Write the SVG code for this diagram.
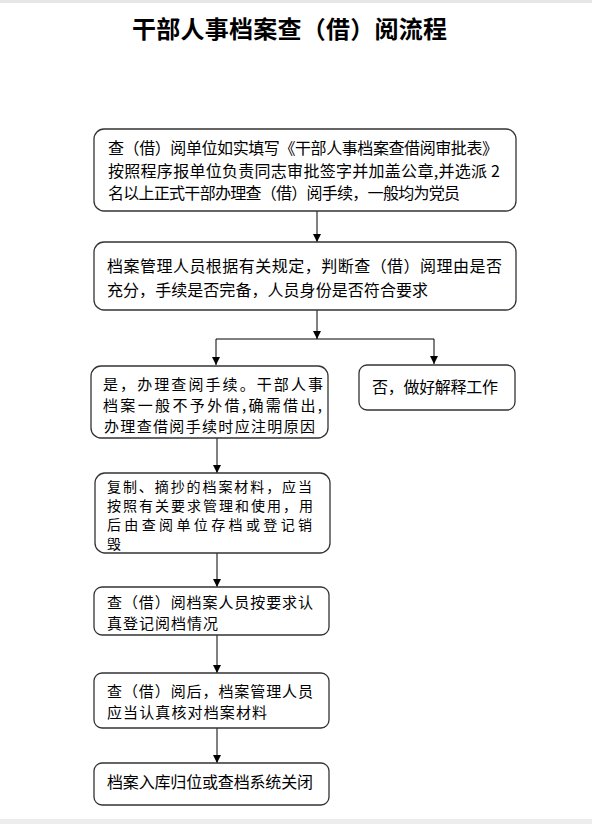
<svg xmlns="http://www.w3.org/2000/svg" width="592" height="824" viewBox="0 0 592 824">
<style>
.box{fill:#fff;stroke:#333;stroke-width:1.3}
.t{font-family:"Noto Sans CJK SC","Noto Sans",sans-serif;font-size:16px;fill:#000}
.s{font-size:15px}
.xs{font-size:14px}
.title{font-family:"Noto Sans CJK SC",serif;font-size:24px;font-weight:bold;fill:#000}
.c{stroke:#000;stroke-width:1;fill:none}
</style>
<defs>
<marker id="ah" markerUnits="userSpaceOnUse" markerWidth="8" markerHeight="9" refX="8" refY="4" orient="auto" viewBox="0 0 8 8">
<path d="M0,0 L8,4 L0,8 z" fill="#000"/>
</marker>
</defs>
<rect x="0" y="0" width="592" height="824" fill="#fff"/>
<rect x="0" y="0" width="592" height="3" fill="#e6e6e6"/>
<rect x="0" y="819" width="592" height="5" fill="#ededed"/>
<text class="title" x="132" y="38" textLength="315">干部人事档案查（借）阅流程</text>
<g id="connectors">
<line class="c" x1="317" y1="211" x2="317" y2="242" marker-end="url(#ah)"/>
<line class="c" x1="317" y1="310" x2="317" y2="339" marker-end="url(#ah)"/>
<line class="c" x1="216" y1="339" x2="434" y2="339"/>
<line class="c" x1="216" y1="339" x2="216" y2="365" marker-end="url(#ah)"/>
<line class="c" x1="434" y1="339" x2="434" y2="364" marker-end="url(#ah)"/>
<line class="c" x1="217" y1="438" x2="217" y2="473" marker-end="url(#ah)"/>
<line class="c" x1="217" y1="553" x2="217" y2="587" marker-end="url(#ah)"/>
<line class="c" x1="217" y1="635" x2="217" y2="673" marker-end="url(#ah)"/>
<line class="c" x1="217" y1="728" x2="217" y2="763" marker-end="url(#ah)"/>
</g>
<g id="n1">
<rect class="box" x="94" y="129" width="422" height="82" rx="10"/>
<text class="t" x="108" y="154" textLength="390">查（借）阅单位如实填写《干部人事档案查借阅审批表》</text>
<text class="t" x="108" y="177" textLength="392">按照程序报单位负责同志审批签字并加盖公章,并选派 2</text>
<text class="t" x="108" y="199" textLength="352">名以上正式干部办理查（借）阅手续，一般均为党员</text>
</g>
<g id="n2">
<rect class="box" x="94" y="242" width="422" height="68" rx="10"/>
<text class="t" x="107" y="272" textLength="395">档案管理人员根据有关规定，判断查（借）阅理由是否</text>
<text class="t" x="107" y="296" textLength="321">充分，手续是否完备，人员身份是否符合要求</text>
</g>
<g id="n3">
<rect class="box" x="91" y="366" width="237" height="72" rx="10"/>
<text class="t s" x="103" y="390" textLength="220">是，办理查阅手续。干部人事</text>
<text class="t s" x="103" y="411" textLength="219">档案一般不予外借,确需借出,</text>
<text class="t s" x="104" y="432" textLength="211">办理查借阅手续时应注明原因</text>
</g>
<g id="n4">
<rect class="box" x="359" y="365" width="156" height="45" rx="8"/>
<text class="t" x="372" y="393" textLength="126">否，做好解释工作</text>
</g>
<g id="n5">
<rect class="box" x="95" y="473" width="235" height="80" rx="10"/>
<text class="t xs" x="107" y="492" textLength="205">复制、摘抄的档案材料，应当</text>
<text class="t xs" x="107" y="511" textLength="206">按照有关要求管理和使用，用</text>
<text class="t xs" x="107" y="530" textLength="205">后由查阅单位存档或登记销</text>
<text class="t xs" x="107" y="549">毁</text>
</g>
<g id="n6">
<rect class="box" x="94" y="587" width="235" height="48" rx="8"/>
<text class="t s" x="107" y="608" textLength="206">查（借）阅档案人员按要求认</text>
<text class="t s" x="107" y="629" textLength="111">真登记阅档情况</text>
</g>
<g id="n7">
<rect class="box" x="94" y="673" width="235" height="55" rx="8"/>
<text class="t s" x="107" y="697" textLength="206">查（借）阅后，档案管理人员</text>
<text class="t s" x="107" y="718" textLength="160">应当认真核对档案材料</text>
</g>
<g id="n8">
<rect class="box" x="94" y="763" width="235" height="42" rx="8"/>
<text class="t" x="107" y="788" textLength="206">档案入库归位或查档系统关闭</text>
</g>
</svg>
